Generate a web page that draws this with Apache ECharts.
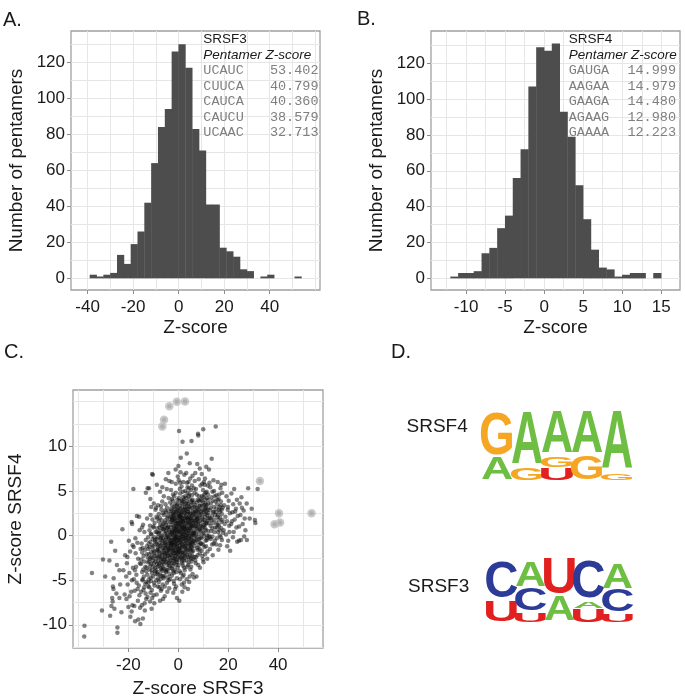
<!DOCTYPE html>
<html>
<head>
<meta charset="utf-8">
<script src="https://cdn.jsdelivr.net/npm/echarts@6.0.0/dist/echarts.min.js"></script>
<style>
html,body{margin:0;padding:0;background:#ffffff;}
#chart{width:685px;height:700px;}
</style>
</head>
<body>
<div id="chart"></div>
<script>
// ================= DATA =================
// Panel A: SRSF3 pentamer Z-score histogram
const srsf3BinStarts = [-39,-36,-33,-30,-27,-24,-21,-18,-15,-12,-9,-6,-3,0,3,6,9,12,15,18,21,24,27,30,33,36,39,42,45,48,51];
const srsf3BinWidth = 3;
const srsf3Counts = [2,1,2,3,13,8,19,26,42,64,84,94,126,130,117,83,71,41,41,17,15,12,5,4,0,1,2,0,0,0,1];

// Panel B: SRSF4 pentamer Z-score histogram
const srsf4BinStarts = [-12,-11,-10,-9,-8,-7,-6,-5,-4,-3,-2,-1,0,1,2,3,4,5,6,7,8,9,10,11,12,13,14];
const srsf4BinWidth = 1;
const srsf4Counts = [1,3,3,4,14,17,28,35,56,72,107,129,127,131,93,79,52,33,16,6,5,1,2,3,3,0,3];

// Top pentamers (inset tables)
const srsf3TopPentamers = ['UCAUC','CUUCA','CAUCA','CAUCU','UCAAC'];
const srsf3TopScores = [53.402, 40.799, 40.360, 38.579, 32.713];
const srsf3TopScoresInSrsf4 = [2.5, 1.45, 2.5, 1.27, 6.1];
const srsf4TopPentamers = ['GAUGA','AAGAA','GAAGA','AGAAG','GAAAA'];
const srsf4TopScores = [14.999, 14.979, 14.480, 12.980, 12.223];
const srsf4TopScoresInSrsf3 = [2.7, -0.6, -3.6, -5.7, -6.4];

// Tick labels / grid lines
const histAXTicks = [-40,-20,0,20,40];
const histAXGrid = [-40,-30,-20,-10,0,10,20,30,40,50,60];
const histYTicks = [0,20,40,60,80,100,120];
const histYGrid = [0,10,20,30,40,50,60,70,80,90,100,110,120,130];
const histBXTicks = [-10,-5,0,5,10,15];
const histBXGrid = [-12.5,-10,-7.5,-5,-2.5,0,2.5,5,7.5,10,12.5,15];
const scatterXTicks = [-20,0,20,40];
const scatterXGrid = [-40,-30,-20,-10,0,10,20,30,40,50];
const scatterYTicks = [-10,-5,0,5,10];
const scatterYGrid = [-12.5,-10,-7.5,-5,-2.5,0,2.5,5,7.5,10,12.5,15];

// Panel C: [SRSF3 Z-score, SRSF4 Z-score] per pentamer
const scatterPoints = [
[-37.6,-10.1],[-37.7,-11.3],[-34.6,-4.2],[-30.6,-8.4],[-30.2,-2.7],[-29.3,-4.6],[-27.6,-2.8],[-27.3,-9.0],
[-26.9,-0.7],[-26.2,-5.7],[-26.0,-6.0],[-26.5,-7.0],[-26.3,-7.4],[-25.3,-1.7],[-24.4,-10.3],[-24.4,-10.9],[-25.6,-8.2],[-24.8,-6.5],[-25.9,-4.8],[-24.6,-3.3],[-26.8,-7.9],
[-23.6,-7.0],[-23.6,-3.9],[-22.4,0.7],[-22.0,-3.9],[-23.3,-5.5],[-21.5,-6.6],[-22.8,-8.6],[-21.3,-2.2],
[-20.3,-5.5],[-19.3,-1.8],[-18.7,1.5],[-18.5,1.3],[-20.0,-8.0],[-18.4,-7.8],[-18.7,-8.5],[-19.6,-4.2],[-20.6,-3.1],[-18.9,-6.3],[-19.8,-0.6],[-20.8,-7.1],[-18.2,-3.6],[-19.2,-9.1],[-20.4,-2.4],[-18.6,-5.0],[-19.5,-6.8],[-20.9,-4.6],[-18.3,-1.1],
[-18.0,5.2],[-16.6,2.2],[-15.7,2.1],[-17.3,-9.6],[-16.0,-9.4],[-15.2,-9.9],[-17.5,-6.2],[-16.8,-4.4],[-15.4,-3.1],[-17.1,-2.0],[-16.2,-7.3],[-15.8,-5.6],[-17.8,-4.9],[-16.4,-0.8],[-15.1,-1.5],[-17.6,-7.9],[-16.9,-3.5],[-15.6,-6.7],[-17.2,-0.3],[-16.1,-2.6],[-15.3,-8.1],[-17.9,-1.3],[-16.7,-5.3],[-15.5,0.6],[-17.4,-3.9],[-16.3,-6.0],
[-14.7,-0.9],[-13.0,4.8],[-12.3,5.3],[-14.2,-9.3],[-13.5,-7.6],[-12.8,-5.2],[-14.5,-4.1],[-13.9,-2.3],[-12.6,-1.2],[-14.9,-6.3],[-13.2,-3.5],[-12.1,-0.2],[-14.1,1.2],[-13.7,-5.8],[-12.4,-4.4],[-14.8,-2.7],[-13.3,-1.6],[-12.9,-7.1],[-14.4,-5.0],[-13.6,0.4],[-12.2,-3.0],[-14.0,-3.8],[-13.1,-6.5],[-12.7,-2.1],[-14.6,-7.8],[-13.8,-4.6],[-12.5,1.9],[-14.3,-1.4],[-13.4,-8.4],[-12.0,-5.7],[-14.95,-3.2],[-13.05,-0.5],[-12.35,-6.9],[-14.25,-4.9],[-13.65,-2.9],[-12.85,-4.0],[-14.55,0.9],[-13.25,-5.4],[-12.15,-2.5],[-13.95,-6.1],[-12.65,-3.6],[-14.45,-1.9],
[-11.7,5.3],[-10.2,6.8],[-10.5,6.9],[-11.2,4.1],[-9.8,3.6],[-11.9,-1.5],[-10.8,-2.4],[-9.4,-0.7],[-11.5,-3.8],[-10.1,-4.6],[-9.2,-2.9],[-11.0,0.2],[-10.6,-6.1],[-9.7,-5.3],[-11.3,-7.4],[-10.4,-1.1],[-9.5,1.4],[-11.8,-4.9],[-10.9,-3.2],[-9.9,-2.0],[-11.1,2.3],[-10.3,-0.4],[-9.3,-3.6],[-11.6,-5.8],[-10.7,-8.2],[-9.6,-1.8],[-11.4,-2.6],[-10.0,0.9],[-9.1,-4.3],[-11.85,-0.9],[-10.95,-5.1],[-9.85,-6.7],[-11.25,-3.4],[-10.35,1.8],[-9.45,-2.3],[-11.55,0.6],[-10.65,-3.9],[-9.65,-0.2],[-11.15,-6.4],[-10.25,-2.8],[-9.15,2.9],[-11.45,-1.3],[-10.55,-4.2],[-9.55,-5.6],[-11.75,-2.1],[-10.85,3.2],[-9.75,-3.1],[-11.05,-4.7],[-10.15,-1.6],[-9.25,-0.5],[-11.35,1.1],[-10.45,-7.0],[-9.35,-4.0],[-11.65,-2.9],[-10.75,0.1],[-9.95,-1.2],[-11.95,-5.3],[-10.05,-3.5],[-9.05,0.4],[-11.22,-0.7],[-10.38,-2.5],[-9.62,-7.6],[-10.9,-1.9],[-9.9,1.0],
[-8.6,5.7],[-8.2,-5.7],[-7.3,4.9],[-6.4,5.4],[-8.9,3.1],[-7.8,2.4],[-6.7,1.7],[-8.4,0.8],[-7.1,-0.3],[-6.2,-1.4],[-8.7,-2.2],[-7.6,-3.1],[-6.5,-4.0],[-8.1,-4.8],[-7.0,-6.2],[-6.1,-7.1],[-8.8,-0.9],[-7.7,0.3],[-6.6,-2.6],[-8.3,-3.5],[-7.2,1.2],[-6.3,-0.6],[-8.5,-1.7],[-7.4,-4.4],[-6.8,2.9],[-8.0,-2.9],[-6.9,-1.1],[-6.05,0.7],[-8.95,-3.9],[-7.85,-5.2],[-6.75,-3.3],[-8.45,1.9],[-7.35,-2.0],[-6.25,-5.5],[-8.15,-0.2],[-7.05,-3.7],[-6.45,3.8],[-8.65,-6.6],[-7.55,-1.5],[-6.85,-0.1],[-8.35,-4.3],[-7.25,-2.4],[-6.15,1.3],[-8.75,2.1],[-7.65,-0.8],[-6.55,-1.9],[-8.25,-1.3],[-7.15,-4.9],[-6.35,-3.0],[-8.55,0.4],[-7.45,0.9],[-6.65,-6.0],[-8.05,-2.5],[-6.95,-2.8],[-6.22,2.5],[-8.82,-5.0],[-7.72,-3.4],[-6.62,0.0],[-8.42,-1.0],[-7.32,-7.3],[-6.42,-2.2],[-8.12,3.4],[-7.02,-0.5],[-6.12,-4.6],[-8.92,-2.6],[-7.82,1.6],[-6.72,-3.8],[-8.52,-3.2],[-7.42,2.0],[-6.32,-0.9],[-8.22,-4.1],[-7.12,0.5],[-6.02,-2.7],[-8.62,-0.4],[-7.52,-5.8],[-6.52,1.0],[-8.32,-1.6],[-7.22,-1.2],[-6.82,-4.5],[-8.02,0.2],[-7.62,-2.3],[-6.92,3.3],[-7.92,-1.8],[-6.18,-3.6],[-5.7,12.98],[-6.4,12.223],
[-5.0,6.3],[-4.0,7.0],[-3.6,6.1],[-5.8,4.4],[-4.6,5.2],[-3.3,3.7],[-5.3,2.8],[-4.2,2.2],[-3.1,1.5],[-5.7,0.9],[-4.8,0.3],[-3.8,-0.4],[-5.1,-1.1],[-4.3,-1.8],[-3.4,-2.5],[-5.9,-3.2],[-4.9,-4.1],[-3.9,-5.0],[-5.4,-5.7],[-4.4,-6.3],[-3.5,-2.9],[-5.6,-2.0],[-4.7,-0.7],[-3.7,0.6],[-5.2,1.7],[-4.1,-1.4],[-3.2,-3.6],[-5.5,-4.5],[-4.5,3.1],[-3.05,-1.0],[-5.95,-0.3],[-4.85,1.2],[-3.95,-2.2],[-5.15,-3.0],[-4.25,-3.9],[-3.35,0.1],[-5.75,2.3],[-4.65,-2.6],[-3.75,-1.6],[-5.35,-0.8],[-4.45,0.8],[-3.55,-4.3],[-5.65,-1.5],[-4.55,-5.3],[-3.45,1.9],[-5.25,-2.4],[-4.15,-0.1],[-3.15,-0.6],[-5.85,-4.8],[-4.95,-1.9],[-3.85,2.7],[-5.05,0.5],[-4.35,-3.3],[-3.25,-1.3],[-5.45,-6.8],[-4.75,-2.9],[-3.65,-3.4],[-5.55,1.4],[-4.05,1.0],[-3.02,-2.1],[-5.92,-1.7],[-4.82,-0.2],[-3.72,-0.9],[-5.12,3.5],[-4.22,-4.7],[-3.42,0.4],[-5.62,-2.7],[-4.52,-1.2],[-3.82,-3.1],[-5.32,-0.5],[-4.42,2.0],[-3.52,-1.7],[-5.72,-3.7],[-4.62,0.0],[-3.62,-5.9],[-5.22,-1.4],[-4.12,-2.3],[-3.12,2.4],[-5.82,0.7],[-4.72,-3.8],[-3.92,-0.3],[-5.42,-2.2],[-4.32,1.5],[-3.22,-2.8],[-5.02,-4.0],[-4.92,2.6],[-3.32,-4.9],[-5.52,0.2],[-4.02,-1.5],[-3.88,4.2],[-5.28,-1.0],[-4.58,-2.0],[-3.58,-0.8],[-4.18,0.9],[-3.6,14.48],
[-0.2,6.6],[-1.7,-5.4],[-1.3,-6.0],[-2.6,-4.5],[-0.6,14.979],[-2.9,5.1],[-2.1,4.6],[-1.0,5.8],[-0.4,4.0],[-2.5,3.4],[-1.5,3.0],[-0.7,2.7],[-2.8,2.1],[-1.9,1.8],[-1.1,1.4],[-0.3,1.0],[-2.4,0.6],[-1.6,0.3],[-0.8,-0.1],[-2.7,-0.5],[-1.2,-0.8],[-0.5,-1.2],[-2.2,-1.6],[-1.4,-2.0],[-0.1,-2.4],[-2.0,-2.8],[-0.9,-3.3],[-2.6,-3.7],[-1.8,-4.2],[-0.6,-4.8],[-2.3,-1.0],[-1.5,0.8],[-0.7,2.0],[-2.9,-2.2],[-2.15,2.5],[-1.35,-0.4],[-0.45,-3.0],[-2.75,1.2],[-1.95,-1.4],[-1.05,3.6],[-0.25,0.4],[-2.45,-0.2],[-1.65,2.2],[-0.85,-1.8],[-2.55,4.1],[-1.25,-2.6],[-0.35,2.9],[-2.05,0.0],[-1.45,1.6],[-0.65,-0.6],[-2.85,-1.1],[-1.75,-3.1],[-0.95,0.7],[-0.15,-1.5],[-2.35,-3.4],[-1.55,-1.2],[-0.75,3.3],[-2.65,0.3],[-1.85,1.0],[-1.15,-0.3],[-0.55,1.7],[-2.25,1.5],[-1.45,-2.3],[-0.05,3.1],[-2.95,0.9],[-1.9,-0.7],[-1.0,-1.6],[-0.3,-0.9],[-2.5,-1.8],[-1.6,4.4],[-0.8,1.3],[-2.1,-4.0],[-1.3,2.4],[-0.4,-2.0],[-2.7,2.8],[-1.7,0.5],[-0.9,-2.9],[-2.2,3.9],[-1.1,-0.1],[-0.2,-3.6],[-2.8,-0.8],[-1.4,1.9],[-0.6,0.2],[-2.4,-2.5],[-1.8,-1.7],[-0.95,2.6],[-2.6,1.7],[-1.2,0.1],[-0.5,-0.5],[-2.0,2.3],[-1.5,-3.8],[-0.7,-1.3],[-2.3,0.4],[-1.6,-0.9],[-0.1,2.2],[-2.9,3.0],[-1.0,4.8],[-0.3,-1.9],[-2.5,-3.1],[-1.9,2.7],[-1.1,-2.2],[-0.8,0.9],[-2.7,-1.4],[-1.3,1.1],[-0.4,3.5],[-2.15,-0.5],[-1.75,-2.6],[-0.25,-0.2],[-2.45,1.9],[-1.05,-1.0],[-0.65,-2.7],[-2.85,0.1],[-1.65,3.2],[-0.35,0.6],[-2.05,-2.0],[-1.45,-0.4],[-0.85,-4.1],[-2.35,2.0],[-1.25,0.6],[-0.15,1.4],[-2.55,-0.9],[-1.85,-5.1],[-0.55,-7.0],[-1.05,7.4],[-2.0,-6.4],[-0.9,-5.7],[-2.6,6.0],
[0.3,11.7],[1.0,8.7],[1.7,10.5],[2.7,14.999],[0.05,7.8],[2.3,-5.3],[0.7,-4.9],[1.6,-6.3],[0.4,-7.3],[0.2,6.2],[1.3,5.5],[2.4,6.8],[0.8,4.7],[1.9,4.3],[2.8,5.0],[0.5,3.9],[1.5,3.6],[2.6,3.2],[0.1,2.8],[1.1,2.5],[2.1,2.2],[0.6,1.9],[1.7,1.6],[2.9,1.3],[0.3,1.0],[1.4,0.7],[2.5,0.4],[0.9,0.1],[2.0,-0.2],[0.2,-0.5],[1.2,-0.9],[2.2,-1.2],[0.7,-1.6],[1.8,-1.9],[2.7,-2.3],[0.4,-2.7],[1.6,-3.1],[2.4,-3.6],[1.0,-4.2],[0.15,0.5],[1.05,1.8],[2.05,2.9],[0.55,-0.3],[1.55,-1.3],[2.55,-2.0],[0.85,3.0],[1.85,0.2],[2.85,-0.6],[0.35,2.3],[1.35,-2.4],[2.35,1.1],[0.65,-1.1],[1.65,2.7],[2.65,0.8],[0.95,-2.0],[1.95,3.8],[2.95,-1.5],[0.25,4.2],[1.25,-0.1],[2.25,-2.8],[0.75,2.1],[1.75,-0.7],[2.75,2.5],[0.45,-1.8],[1.45,1.2],[2.45,3.5],[0.12,-3.3],[1.12,0.4],[2.12,-0.4],[0.62,1.4],[1.62,-2.6],[2.62,1.9],[0.92,0.9],[1.92,1.5],[2.92,0.0],[0.32,-0.8],[1.32,2.0],[2.32,-1.7],[0.82,-2.5],[1.82,4.9],[2.82,3.0],[0.52,0.3],[1.52,-1.0],[2.52,2.6],[0.02,1.6],[1.02,-1.4],[2.02,0.6],[0.72,3.4],[1.72,0.9],[2.72,-0.9],[0.42,-0.2],[1.42,3.1],[2.42,-2.5],[0.22,2.4],[1.22,1.1],[2.22,4.0],[0.88,-0.6],[1.88,-3.4],[2.88,1.7],[0.58,-4.0],[1.58,0.0],[2.58,-3.9],[0.28,1.3],[1.28,-1.9],[2.28,0.2],[0.98,2.6],[1.98,-2.2],[2.98,2.1],[0.68,0.6],[1.68,1.9],[2.68,-1.3],[0.38,-1.4],[1.38,3.9],[2.38,0.7],[0.08,-1.7],[1.08,-0.5],[2.08,1.6],[0.78,5.9],[1.78,-4.6],[2.78,4.4],[0.48,2.1],[1.48,-2.9],[2.48,-0.3],[0.18,-2.2],[1.18,2.3],[2.18,-4.4],[0.9,7.1],[2.0,6.0],[1.4,-5.5],[0.6,5.2],[2.5,-5.8],[1.1,1.5],[2.2,0.9],
[3.4,9.2],[5.3,10.6],[4.6,8.1],[3.2,7.0],[5.7,6.7],[4.1,6.0],[3.7,5.4],[5.0,5.1],[4.4,4.6],[3.1,4.2],[5.5,3.9],[4.0,3.6],[3.6,3.3],[4.8,3.0],[5.9,2.7],[3.3,2.4],[4.3,2.1],[5.2,1.8],[3.9,1.5],[4.9,1.2],[5.8,0.9],[3.5,0.6],[4.5,0.3],[5.4,0.0],[3.0,-0.3],[4.2,-0.6],[5.1,-0.9],[3.8,-1.2],[4.7,-1.5],[5.6,-1.8],[3.45,-2.1],[4.35,-2.5],[5.25,-2.9],[3.95,-3.3],[4.85,-3.8],[5.75,-4.3],[3.15,1.0],[4.05,2.6],[4.95,-0.4],[5.85,1.4],[3.55,3.8],[4.45,-1.0],[5.35,2.2],[3.25,-0.8],[4.15,0.8],[5.05,3.4],[5.95,-0.7],[3.65,1.9],[4.55,4.1],[5.45,-1.3],[3.35,-1.6],[4.25,1.3],[5.15,0.5],[3.75,-0.1],[4.65,2.4],[5.55,1.1],[3.05,2.9],[3.85,0.2],[4.75,-2.2],[5.65,3.1],[3.12,0.4],[4.02,-1.9],[4.92,1.6],[5.82,-2.6],[3.52,2.0],[4.42,0.0],[5.32,-0.2],[3.22,-2.8],[4.12,4.4],[5.02,2.0],[5.92,0.3],[3.62,-0.5],[4.52,1.4],[5.42,4.5],[3.32,1.4],[4.22,-3.0],[5.12,-1.4],[3.72,2.7],[4.62,-0.8],[5.52,-2.2],[3.02,-1.1],[3.92,3.0],[4.82,0.7],[5.72,0.1],[3.42,0.8],[4.32,3.2],[5.22,1.0],[3.82,-1.6],[4.72,2.5],[5.62,-0.9],[3.18,3.6],[4.08,0.5],[4.98,-1.7],[5.88,2.3],[3.58,-3.5],[4.48,1.9],[5.38,-0.5],[3.28,0.0],[4.18,-0.3],[5.08,-2.6],[3.68,4.8],[4.58,-4.6],[5.48,5.6],[3.38,-4.9],[4.28,5.3],[5.18,-3.5],[3.78,-2.4],[4.68,0.9],[5.58,1.7],[3.98,1.8],[4.88,-1.1],[5.78,4.0],[3.48,5.9],[4.38,-5.2],[5.28,3.7],[3.88,-6.0],[4.78,6.4],
[7.9,11.4],[8.0,11.2],[6.3,-4.7],[7.3,-4.6],[7.6,8.0],[8.6,7.5],[6.8,7.0],[8.9,5.6],[7.1,5.2],[6.5,4.8],[8.3,4.4],[7.7,4.0],[6.1,3.7],[8.7,3.4],[7.4,3.1],[6.9,2.8],[8.1,2.5],[7.0,2.2],[6.4,1.9],[8.5,1.6],[7.8,1.3],[6.6,1.0],[8.4,0.7],[7.2,0.4],[6.2,0.1],[8.8,-0.2],[7.5,-0.5],[6.7,-0.8],[8.2,-1.1],[7.6,-1.4],[6.0,-1.7],[8.6,-2.0],[7.1,-2.4],[6.8,-2.8],[8.0,-3.3],[7.4,3.7],[6.35,2.4],[8.45,2.9],[7.25,-0.1],[6.55,0.5],[8.75,1.1],[7.85,1.9],[6.15,2.6],[8.25,3.9],[7.05,1.4],[6.85,-0.4],[8.95,-0.9],[7.65,0.8],[6.45,3.2],[8.35,0.2],[7.15,2.7],[6.65,1.6],[8.55,-1.5],[7.45,1.8],[6.25,-0.6],[8.15,2.0],[7.35,4.6],[6.05,1.3],[8.85,2.3],[7.75,-2.2],[6.95,0.0],[8.05,1.5],[7.55,2.6],[6.75,3.4],[8.65,0.6],[7.95,3.0],[6.5,-1.2],[8.4,-0.4],[7.2,1.1],[6.2,5.3],[8.9,4.0],[7.0,-3.1],[6.6,6.1],[8.2,6.3],[7.8,-1.6],[6.4,-2.4],[8.7,-3.6],[7.3,0.9],[6.9,1.7],[8.1,-0.7],[7.5,2.1],[6.3,0.3],[8.5,3.3],
[10.0,11.9],[11.2,7.7],[9.4,6.9],[10.7,6.4],[11.8,5.6],[9.9,5.1],[10.4,4.6],[11.5,4.2],[9.2,3.9],[10.9,3.6],[11.1,3.2],[9.7,2.9],[10.2,2.6],[11.6,2.3],[9.5,2.0],[10.6,1.7],[11.3,1.4],[9.1,1.1],[10.8,0.8],[11.9,0.5],[9.8,0.2],[10.3,-0.1],[11.4,-0.5],[9.3,-0.9],[10.5,-1.3],[11.7,-1.8],[9.6,-2.3],[10.1,-3.0],[11.0,3.0],[9.45,4.4],[10.65,2.1],[11.85,1.9],[9.15,0.6],[10.35,3.4],[11.55,0.0],[9.75,1.5],[10.95,-0.6],[11.25,2.7],[9.55,3.3],[10.75,4.0],[11.95,3.6],[9.25,2.4],[10.45,1.2],[11.65,-0.3],[9.85,-1.0],[10.15,1.0],[11.35,4.9],[9.65,0.9],[10.85,2.4],[11.05,1.3],[9.35,-1.7],[10.55,5.7],[11.75,2.9],[9.95,3.7],[10.25,0.3],[11.45,1.6],[9.05,2.7],[10.95,4.8],[11.15,-1.2],[9.9,-2.7],[10.7,-2.1],[11.6,-2.6],[9.6,5.8],[10.3,6.0],[11.9,4.6],[9.2,-0.3],[10.5,2.9],[11.4,3.4],[9.7,1.8],[10.1,4.3],[11.0,0.6],
[13.4,8.6],[12.3,7.4],[14.1,6.2],[12.8,5.4],[13.7,4.9],[14.6,4.4],[12.1,4.0],[13.1,3.6],[14.3,3.2],[12.6,2.9],[13.9,2.6],[14.8,2.3],[12.4,2.0],[13.3,1.7],[14.0,1.4],[12.9,1.1],[13.6,0.8],[14.5,0.4],[12.2,0.0],[13.0,-0.4],[14.2,-0.9],[12.7,-1.5],[13.8,-2.2],[14.9,3.8],[12.5,5.9],[13.5,2.2],[14.4,1.8],[12.05,2.5],[13.25,4.3],[14.75,0.9],[12.95,3.1],[13.65,-0.1],[14.15,2.7],[12.35,1.4],[13.85,3.9],[14.65,-0.6],[12.65,-0.2],[13.15,0.5],[14.35,5.0],[12.85,1.9],[13.55,-1.0],
[15.0,12.2],[15.8,6.0],[16.9,5.3],[17.6,4.8],[15.3,4.5],[16.2,4.1],[17.1,3.8],[15.6,3.5],[16.5,3.2],[17.4,2.9],[15.1,2.6],[16.0,2.3],[16.8,2.0],[17.7,1.7],[15.4,1.4],[16.3,1.1],[17.2,0.8],[15.9,0.4],[16.6,0.0],[17.5,-0.5],[15.2,-1.0],[16.1,-1.6],[17.0,3.4],[15.7,2.1],[16.4,4.6],[17.3,1.5],[15.5,0.9],[16.7,2.7],[17.8,3.1],[15.25,3.0],[16.15,1.8],[17.05,-0.2],[15.65,4.0],[16.55,0.6],[17.45,2.4],[15.45,-0.3],[16.35,2.9],[17.25,5.7],[15.85,1.2],[16.75,-1.1],[17.9,0.3],
[18.7,5.8],[19.3,4.4],[20.2,3.9],[18.4,3.4],[19.8,2.9],[20.7,2.5],[18.9,2.1],[19.5,1.6],[20.4,1.1],[18.2,0.6],[19.1,0.1],[20.0,-0.6],[19.6,-1.2],[20.8,-1.7],[18.6,1.3],[19.9,3.2],[20.5,0.4],
[22.4,5.2],[21.3,4.7],[23.5,4.0],[22.0,3.5],[23.1,3.0],[21.7,2.6],[23.8,2.2],[22.6,1.8],[21.2,1.3],[23.3,0.9],[22.2,0.4],[21.9,-0.2],[23.6,-0.7],[22.8,2.7],[21.5,1.6],
[24.3,-0.6],[25.1,-0.5],[26.2,2.8],[24.6,3.6],[25.5,3.1],[26.6,1.9],[24.9,2.3],[25.8,1.3],[26.9,0.6],[24.4,1.0],[25.3,4.3],[26.4,-0.1],
[27.4,3.6],[27.5,-0.5],[29.4,3.0],[28.0,5.3],[28.6,1.9],
[30.7,1.75],[30.9,1.4],[31.8,5.2],[32.713,6.1],[38.579,1.27],[40.799,1.45],[40.36,2.5],[53.402,2.5]
];

// Panel D: sequence logos, per position: [letter, relative height] from bottom to top
const srsf4Logo = [
  [['A',0.34],['G',0.64]],
  [['G',0.19],['A',0.81]],
  [['U',0.19],['G',0.17],['A',0.64]],
  [['G',0.36],['A',0.64]],
  [['G',0.12],['A',0.88]]
];
const srsf3Logo = [
  [['U',0.36],['C',0.59]],
  [['U',0.17],['C',0.37],['A',0.41]],
  [['A',0.42],['U',0.58]],
  [['U',0.23],['A',0.12],['C',0.60]],
  [['U',0.15],['C',0.37],['A',0.43]]
];

// ================= STYLE =================
const FONT = '"Liberation Sans", Arial, Helvetica, sans-serif';
const MONO = '"Liberation Mono", "Courier New", monospace';
const GRID_COLOR = '#e6e6e6';
const BORDER_COLOR = '#a0a0a0';
const TICK_COLOR = '#8c8c8c';
const LABEL_COLOR = '#1a1a1a';
const BAR_COLOR = '#4d4d4d';
const LETTERS = ['A','C','G','U'];
const LETTER_COLOR = {A:'#6fbe44', C:'#2b3b97', G:'#f5a623', U:'#e2201f'};
const LETTER_INK = {A:0.65, C:0.59, G:0.63, U:0.55};
const CAP = 0.72, MID = 0.35;

// ================= HELPERS =================
function primaryAxis(dim, gridIndex, min, max, ticks, extra) {
  return Object.assign({
    type: 'value', gridIndex: gridIndex, min: min, max: max,
    position: dim === 'x' ? 'bottom' : 'left',
    axisLine: {show: false, onZero: false},
    axisTick: {show: true, length: 4, lineStyle: {color: TICK_COLOR, width: 1}, customValues: ticks},
    axisLabel: {customValues: ticks, color: LABEL_COLOR, fontSize: 17, fontFamily: FONT, margin: dim === 'x' ? 9 : 6},
    splitLine: {show: false}
  }, extra || {});
}
function gridAxis(dim, gridIndex, min, max, lines) {
  return {
    type: 'value', gridIndex: gridIndex, min: min, max: max,
    position: dim === 'x' ? 'top' : 'right',
    axisLine: {show: false, onZero: false},
    axisTick: {show: false, customValues: lines},
    axisLabel: {show: false, customValues: lines},
    splitLine: {show: true, lineStyle: {color: GRID_COLOR, width: 1}}
  };
}
function hiddenAxis(gridIndex, min, max) {
  return {type: 'value', gridIndex: gridIndex, min: min, max: max, show: false, axisLine: {onZero: false}};
}
function histRender(params, api) {
  const n = api.value(2);
  if (!(n > 0)) return null;
  const a = api.coord([api.value(0), 0]);
  const b = api.coord([api.value(1), n]);
  return {type: 'rect', shape: {x: a[0] - 0.2, y: b[1], width: b[0] - a[0] + 0.4, height: a[1] - b[1]},
          style: {fill: BAR_COLOR}};
}
function logoData(logo) {
  const out = [];
  logo.forEach(function (col, i) {
    let base = 0;
    col.forEach(function (item) {
      out.push([i, base, base + item[1], LETTERS.indexOf(item[0])]);
      base += item[1];
    });
  });
  return out;
}
function logoRender(params, api) {
  const col = api.value(0), y0 = api.value(1), y1 = api.value(2);
  const L = LETTERS[api.value(3)];
  const bl = api.coord([col, y0]);
  const tr = api.coord([col + 1, y1]);
  const w = tr[0] - bl[0] - 1;
  const h = bl[1] - tr[1] - 1.2;
  if (h <= 0) return null;
  const F = 100;
  return {
    type: 'text', x: (bl[0] + tr[0]) / 2, y: bl[1],
    scaleX: w / (LETTER_INK[L] * F), scaleY: h / (CAP * F),
    style: {text: L, x: 0, y: -MID * F, font: 'bold 100px "Liberation Sans", Arial, sans-serif',
            fill: LETTER_COLOR[L], align: 'center', verticalAlign: 'middle',
            textAlign: 'center', textVerticalAlign: 'middle'}
  };
}
function txt(text, x, y, font, fill, align) {
  return {type: 'text', z: 100, silent: true,
    style: {text: text, x: x, y: y, font: font, fill: fill || LABEL_COLOR,
            align: align || 'left', verticalAlign: 'middle',
            textAlign: align || 'left', textVerticalAlign: 'middle'}};
}

// ================= GRAPHIC TEXTS =================
const graphics = [];
graphics.push(txt('A.', 3, 20, '20px ' + FONT));
graphics.push(txt('B.', 357, 19.5, '20px ' + FONT));
graphics.push(txt('C.', 4, 352.5, '20px ' + FONT));
graphics.push(txt('D.', 391, 352.5, '20px ' + FONT));
function inset(x, xr, name, pentamers, scores) {
  graphics.push(txt(name, x, 39.5, '13.5px ' + FONT));
  graphics.push(txt('Pentamer Z-score', x, 55, 'italic 13.5px ' + FONT));
  pentamers.forEach(function (p, i) {
    const y = 70.7 + i * 15.5;
    graphics.push(txt(p, x, y, '13.5px ' + MONO, '#7f7f7f'));
    graphics.push(txt(scores[i].toFixed(3), xr, y, '13.5px ' + MONO, '#7f7f7f', 'right'));
  });
}
inset(203.3, 318.5, 'SRSF3', srsf3TopPentamers, srsf3TopScores);
inset(568.7, 676, 'SRSF4', srsf4TopPentamers, srsf4TopScores);
graphics.push(txt('SRSF4', 406.5, 426.5, '19px ' + FONT, '#1a1a1a'));
graphics.push(txt('SRSF3', 408, 586.5, '19px ' + FONT, '#1a1a1a'));

// ================= OPTION =================
const nameStyle = {fontSize: 19, color: LABEL_COLOR, fontFamily: FONT};
const gridBase = {show: true, borderColor: BORDER_COLOR, borderWidth: 1.3, backgroundColor: '#ffffff', containLabel: false, outerBoundsMode: 'none'};

const option = {
  animation: false,
  backgroundColor: '#ffffff',
  textStyle: {fontFamily: FONT},
  grid: [
    Object.assign({left: 71, top: 31, width: 249, height: 259}, gridBase),
    Object.assign({left: 431, top: 31, width: 249, height: 259}, gridBase),
    Object.assign({left: 73, top: 390, width: 250, height: 258}, gridBase),
    {left: 482, top: 413, width: 150, height: 68, show: false, outerBoundsMode: 'none'},
    {left: 487, top: 560, width: 145, height: 63, show: false, outerBoundsMode: 'none'}
  ],
  xAxis: [
    primaryAxis('x', 0, -47.3, 62.1, histAXTicks, {name: 'Z-score', nameLocation: 'middle', nameGap: 28, nameTextStyle: nameStyle}),
    gridAxis('x', 0, -47.3, 62.1, histAXGrid),
    primaryAxis('x', 1, -14.5, 17.4, histBXTicks, {name: 'Z-score', nameLocation: 'middle', nameGap: 28, nameTextStyle: nameStyle}),
    gridAxis('x', 1, -14.5, 17.4, histBXGrid),
    primaryAxis('x', 2, -42.2, 58.0, scatterXTicks, {name: 'Z-score SRSF3', nameLocation: 'middle', nameGap: 31, nameTextStyle: nameStyle}),
    gridAxis('x', 2, -42.2, 58.0, scatterXGrid),
    hiddenAxis(3, 0, 5),
    hiddenAxis(4, 0, 5)
  ],
  yAxis: [
    primaryAxis('y', 0, -6.5, 137.4, histYTicks, {name: 'Number of pentamers', nameLocation: 'middle', nameGap: 45, nameRotate: 90, nameTextStyle: nameStyle}),
    gridAxis('y', 0, -6.5, 137.4, histYGrid),
    primaryAxis('y', 1, -6.5, 138.0, histYTicks, {name: 'Number of pentamers', nameLocation: 'middle', nameGap: 45, nameRotate: 90, nameTextStyle: nameStyle}),
    gridAxis('y', 1, -6.5, 138.0, histYGrid),
    primaryAxis('y', 2, -12.6, 16.3, scatterYTicks, {name: 'Z-score SRSF4', nameLocation: 'middle', nameGap: 48, nameRotate: 90, nameTextStyle: nameStyle}),
    gridAxis('y', 2, -12.6, 16.3, scatterYGrid),
    hiddenAxis(3, 0, 1),
    hiddenAxis(4, 0, 1)
  ],
  series: [
    {type: 'custom', xAxisIndex: 0, yAxisIndex: 0, renderItem: histRender, silent: true,
     encode: {x: [0, 1], y: 2},
     data: srsf3BinStarts.map(function (s, i) { return [s, s + srsf3BinWidth, srsf3Counts[i]]; })},
    {type: 'custom', xAxisIndex: 2, yAxisIndex: 2, renderItem: histRender, silent: true,
     encode: {x: [0, 1], y: 2},
     data: srsf4BinStarts.map(function (s, i) { return [s, s + srsf4BinWidth, srsf4Counts[i]]; })},
    {type: 'scatter', xAxisIndex: 4, yAxisIndex: 4, silent: true, symbol: 'circle', symbolSize: 4.5,
     itemStyle: {color: 'rgba(15,15,15,0.66)'}, data: scatterPoints, z: 3},
    {type: 'scatter', xAxisIndex: 4, yAxisIndex: 4, silent: true, symbol: 'circle', symbolSize: 8.5,
     itemStyle: {color: '#bdbdbd'}, z: 4,
     data: srsf3TopScores.map(function (v, i) { return [v, srsf3TopScoresInSrsf4[i]]; })
       .concat(srsf4TopScores.map(function (v, i) { return [srsf4TopScoresInSrsf3[i], v]; }))},
    {type: 'custom', xAxisIndex: 6, yAxisIndex: 6, renderItem: logoRender, silent: true,
     encode: {x: 0, y: [1, 2]}, data: logoData(srsf4Logo)},
    {type: 'custom', xAxisIndex: 7, yAxisIndex: 7, renderItem: logoRender, silent: true,
     encode: {x: 0, y: [1, 2]}, data: logoData(srsf3Logo)}
  ],
  graphic: graphics
};

const chart = echarts.init(document.getElementById('chart'), null, {renderer: 'canvas'});
chart.setOption(option);
</script>
</body>
</html>
